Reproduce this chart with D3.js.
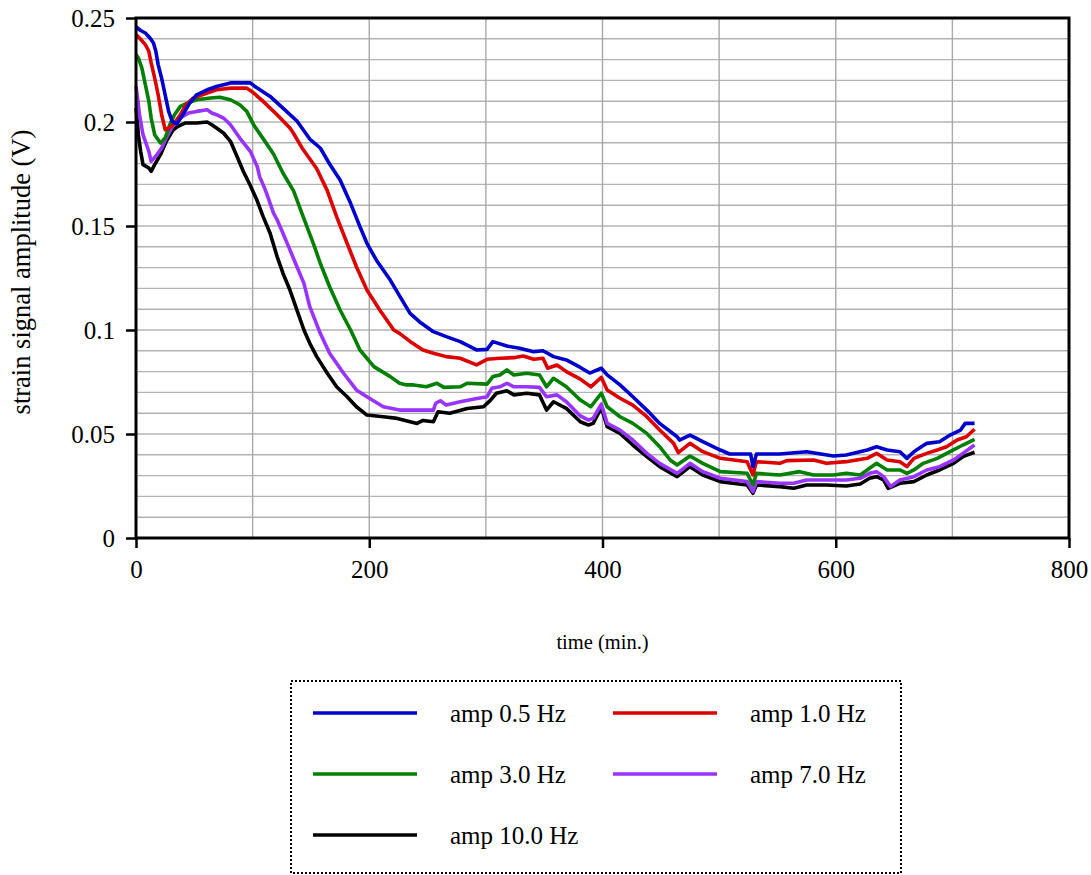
<!DOCTYPE html>
<html>
<head>
<meta charset="utf-8">
<script src="https://cdn.jsdelivr.net/npm/d3@7"></script>
<style>
  html, body { margin: 0; padding: 0; background: #fff; }
  svg { display: block; font-family: "Liberation Serif", "Times New Roman", serif; }
</style>
</head>
<body>
<svg id="chart" width="1091" height="875"></svg>
<script>
// Strain signal amplitude over time, one trace per excitation frequency
const seriesNames = ["amp 0.5 Hz", "amp 1.0 Hz", "amp 3.0 Hz", "amp 7.0 Hz", "amp 10.0 Hz"];
const seriesColors = ["#0000cc", "#dd0000", "#007f00", "#9933ff", "#000000"];

const t05 = [0,4,8,12,15,17,19,22,25,28,31,35,41,46,52,61,69,81,98,104,115,126,138,149,158,166,175,184,192,198,206,218,226,235,243,255,266,278,292,301,306,318,329,341,349,358,369,381,389,399,404,415,426,438,449,464,466,475,486,501,509,527,529,532,552,575,598,609,627,635,644,655,661,667,678,689,698,707,711,719];
const v05 = [0.2457,0.244,0.2428,0.2404,0.238,0.234,0.2276,0.221,0.2131,0.2051,0.2003,0.199,0.2043,0.2091,0.2131,0.2155,0.2171,0.2188,0.2188,0.2163,0.2123,0.2067,0.2005,0.1918,0.1875,0.1798,0.1721,0.1609,0.1497,0.1417,0.1337,0.124,0.1164,0.108,0.104,0.0992,0.0968,0.0944,0.0904,0.0907,0.0944,0.0923,0.0912,0.0896,0.090,0.0872,0.0856,0.082,0.0793,0.0816,0.0784,0.0736,0.0679,0.0615,0.0551,0.0487,0.0471,0.0495,0.0463,0.0423,0.0404,0.0404,0.0343,0.0404,0.0404,0.0415,0.0394,0.0399,0.0423,0.0439,0.0423,0.0415,0.0383,0.0415,0.0455,0.0463,0.0495,0.0519,0.0551,0.0551];

const t10 = [0,3,8,11,13,16,19,22,25,28,32,38,43,49,61,69,81,95,101,109,121,132,135,143,155,164,172,181,189,198,209,221,226,235,246,255,266,278,292,301,312,324,332,341,349,353,361,369,381,390,399,404,415,426,438,449,461,465,475,486,501,524,529,532,552,558,581,592,609,627,635,644,655,661,667,678,687,695,704,712,719];
const v10 = [0.242,0.2404,0.2372,0.234,0.2284,0.2212,0.2131,0.2035,0.1963,0.1971,0.1987,0.2035,0.2083,0.2115,0.2139,0.2155,0.2163,0.2163,0.2139,0.2099,0.2035,0.1971,0.1946,0.187,0.1775,0.167,0.1545,0.1417,0.1304,0.1192,0.1096,0.100,0.0984,0.0945,0.0904,0.0888,0.0872,0.0864,0.0832,0.0859,0.0864,0.0867,0.0875,0.0859,0.0864,0.0816,0.0832,0.080,0.0764,0.0727,0.0772,0.0712,0.0672,0.0639,0.0583,0.0519,0.0455,0.041,0.0455,0.0415,0.0383,0.0367,0.0303,0.0367,0.0359,0.0372,0.0375,0.0359,0.0367,0.0383,0.0407,0.0375,0.0367,0.0343,0.0383,0.0407,0.0423,0.0439,0.0471,0.0487,0.0523];

const t30 = [0,2,5,8,11,13,16,21,25,29,33,38,44,52,64,72,81,89,95,101,109,118,126,135,143,152,158,166,175,184,192,204,218,226,232,238,249,258,264,278,284,301,306,312,318,324,335,346,352,358,369,378,381,390,399,404,415,426,438,449,458,464,475,486,501,524,529,532,552,569,581,598,609,621,629,635,644,655,661,667,675,687,698,709,719];
const v30 = [0.2324,0.2308,0.226,0.218,0.210,0.2019,0.1939,0.1899,0.1923,0.1987,0.2035,0.2075,0.2091,0.2107,0.2115,0.2119,0.2107,0.2083,0.2051,0.1985,0.192,0.1845,0.1755,0.167,0.155,0.1417,0.1321,0.1208,0.1096,0.100,0.0904,0.0824,0.0776,0.0744,0.0736,0.0736,0.0727,0.0744,0.0724,0.0727,0.0744,0.074,0.0776,0.0784,0.0808,0.0784,0.0792,0.0784,0.0727,0.0768,0.0727,0.0679,0.0663,0.0631,0.0696,0.0631,0.0583,0.0551,0.0503,0.0439,0.0375,0.0351,0.0394,0.0359,0.0319,0.0311,0.0255,0.0311,0.0303,0.0319,0.0303,0.0303,0.0311,0.0303,0.0335,0.0359,0.0327,0.0327,0.0311,0.0327,0.0359,0.0383,0.0415,0.0447,0.0474];

const t70 = [0,1,3,6,11,13,18,22,26,32,38,45,52,61,65,69,75,81,89,98,104,106,109,112,118,121,126,132,138,144,149,158,166,178,189,198,212,226,241,255,257,261,266,278,289,301,305,312,318,324,335,346,352,361,369,381,388,392,399,404,415,426,438,449,464,475,486,501,524,529,532,552,564,575,609,621,629,635,641,647,655,667,678,689,701,709,719];
const v70 = [0.2172,0.2131,0.2035,0.1939,0.1859,0.1811,0.1843,0.1875,0.1923,0.1987,0.2019,0.2043,0.2051,0.2059,0.2043,0.2035,0.2019,0.1987,0.1923,0.1859,0.1785,0.1737,0.1699,0.1657,0.1561,0.153,0.1465,0.1385,0.1304,0.1224,0.1112,0.0984,0.0888,0.0792,0.0712,0.0679,0.0631,0.0615,0.0615,0.0615,0.0648,0.066,0.0639,0.0655,0.0667,0.0679,0.072,0.0727,0.0744,0.0727,0.0727,0.0724,0.0679,0.0688,0.0655,0.0587,0.0567,0.0575,0.0644,0.0551,0.0519,0.0471,0.0407,0.0359,0.0311,0.0359,0.0319,0.0287,0.0271,0.0223,0.0271,0.0263,0.0263,0.0279,0.0279,0.0287,0.0311,0.0319,0.0295,0.0247,0.0279,0.0295,0.0327,0.0343,0.0375,0.0407,0.0447];

const t100 = [0,1,2,4,6,11,13,16,21,26,32,36,42,52,61,65,69,75,81,86,92,98,104,109,115,121,126,132,138,144,149,155,164,172,181,189,198,212,224,241,246,255,259,269,284,298,304,309,318,324,335,346,352,358,369,381,388,392,399,404,415,426,438,449,464,475,486,501,524,529,532,552,564,575,592,609,621,629,635,641,645,655,667,678,689,701,709,719];
const v100 = [0.2067,0.2019,0.1939,0.1859,0.1795,0.1779,0.1763,0.1795,0.1843,0.1907,0.1963,0.1979,0.1995,0.1995,0.200,0.1987,0.1971,0.1947,0.1907,0.1843,0.1763,0.1695,0.162,0.1545,0.1465,0.1353,0.1273,0.1192,0.1096,0.100,0.0936,0.0872,0.0792,0.0727,0.0679,0.0631,0.0591,0.0583,0.0575,0.0551,0.0565,0.0559,0.0607,0.060,0.0623,0.0631,0.0663,0.0696,0.0708,0.0688,0.0696,0.0688,0.0615,0.0655,0.0623,0.0559,0.0543,0.0551,0.0627,0.0535,0.0503,0.0447,0.0391,0.0343,0.0295,0.0343,0.0303,0.0271,0.0255,0.0215,0.0255,0.0247,0.0239,0.0255,0.0255,0.025,0.026,0.0287,0.0295,0.0279,0.0239,0.0263,0.0271,0.0303,0.0327,0.0359,0.0391,0.0412];

const xTicks = [0, 200, 400, 600, 800];
const yTicks = [0, 0.05, 0.1, 0.15, 0.2, 0.25];
const yTickLabels = ["0", "0.05", "0.1", "0.15", "0.2", "0.25"];
const xTitle = "time (min.)";
const yTitle = "strain signal amplitude (V)";

const series = [
  { name: seriesNames[0], color: seriesColors[0], t: t05, v: v05 },
  { name: seriesNames[1], color: seriesColors[1], t: t10, v: v10 },
  { name: seriesNames[2], color: seriesColors[2], t: t30, v: v30 },
  { name: seriesNames[3], color: seriesColors[3], t: t70, v: v70 },
  { name: seriesNames[4], color: seriesColors[4], t: t100, v: v100 }
];

const svg = d3.select("#chart");
const plot = { left: 136, right: 1069, top: 18, bottom: 538 };

const x = d3.scaleLinear().domain([0, 800]).range([plot.left, plot.right]);
const y = d3.scaleLinear().domain([0, 0.25]).range([plot.bottom, plot.top]);

// grid
const grid = svg.append("g").attr("class", "grid");
grid.selectAll("line.h")
  .data(d3.range(1, 25).map(i => i * 0.01))
  .join("line")
  .attr("x1", plot.left).attr("x2", plot.right)
  .attr("y1", d => y(d)).attr("y2", d => y(d))
  .attr("stroke", "#b3b3b3").attr("stroke-width", 1.4);
grid.selectAll("line.v")
  .data(d3.range(1, 8).map(i => i * 100))
  .join("line")
  .attr("x1", d => x(d)).attr("x2", d => x(d))
  .attr("y1", plot.top).attr("y2", plot.bottom)
  .attr("stroke", "#a8a8a8").attr("stroke-width", 1.4);

// traces: highest-frequency first so the 0.5 Hz trace sits on top
const line = d3.line().x(d => x(d[0])).y(d => y(d[1]));
const traces = svg.append("g").attr("class", "traces");
series.slice().reverse().forEach(s => {
  traces.append("path")
    .datum(s.t.map((t, i) => [t, s.v[i]]))
    .attr("d", line)
    .attr("fill", "none")
    .attr("stroke", s.color)
    .attr("stroke-width", 3.6)
    .attr("stroke-linejoin", "round");
});

// frame
svg.append("rect")
  .attr("x", plot.left).attr("y", plot.top)
  .attr("width", plot.right - plot.left).attr("height", plot.bottom - plot.top)
  .attr("fill", "none").attr("stroke", "#000").attr("stroke-width", 3);

// axes
const xAxis = svg.append("g")
  .attr("transform", `translate(0,${plot.bottom})`)
  .call(d3.axisBottom(x).tickValues(xTicks).tickSize(10).tickPadding(12).tickFormat(d3.format("d")));
const yAxis = svg.append("g")
  .attr("transform", `translate(${plot.left},0)`)
  .call(d3.axisLeft(y).tickValues(yTicks).tickSize(10).tickPadding(11)
    .tickFormat((d, i) => yTickLabels[i]));
[xAxis, yAxis].forEach(a => {
  a.select(".domain").remove();
  a.selectAll(".tick line").attr("stroke", "#000").attr("stroke-width", 2.5);
  a.selectAll(".tick text")
    .attr("fill", "#000")
    .style("font-family", "'Liberation Serif', 'Times New Roman', serif")
    .style("font-size", "25px");
});

// axis titles
svg.append("text")
  .attr("x", (plot.left + plot.right) / 2).attr("y", 649)
  .attr("text-anchor", "middle")
  .style("font-size", "20.5px")
  .text(xTitle);
svg.append("text")
  .attr("transform", `translate(30,272) rotate(-90)`)
  .attr("text-anchor", "middle")
  .style("font-size", "26.5px")
  .text(yTitle);

// legend
const legend = svg.append("g").attr("class", "legend");
legend.append("rect")
  .attr("x", 291).attr("y", 681).attr("width", 610).attr("height", 192)
  .attr("fill", "none").attr("stroke", "#000").attr("stroke-width", 2)
  .attr("stroke-dasharray", "2,2");
const colX = [313, 613];
const rowY = [713, 774, 835];
series.forEach((s, i) => {
  const cx = colX[i % 2], cy = rowY[Math.floor(i / 2)];
  legend.append("line")
    .attr("x1", cx).attr("x2", cx + 104)
    .attr("y1", cy).attr("y2", cy)
    .attr("stroke", s.color).attr("stroke-width", 3.6);
  legend.append("text")
    .attr("x", cx + 137).attr("y", cy + 9)
    .style("font-size", "25px")
    .text(s.name);
});
</script>
</body>
</html>
